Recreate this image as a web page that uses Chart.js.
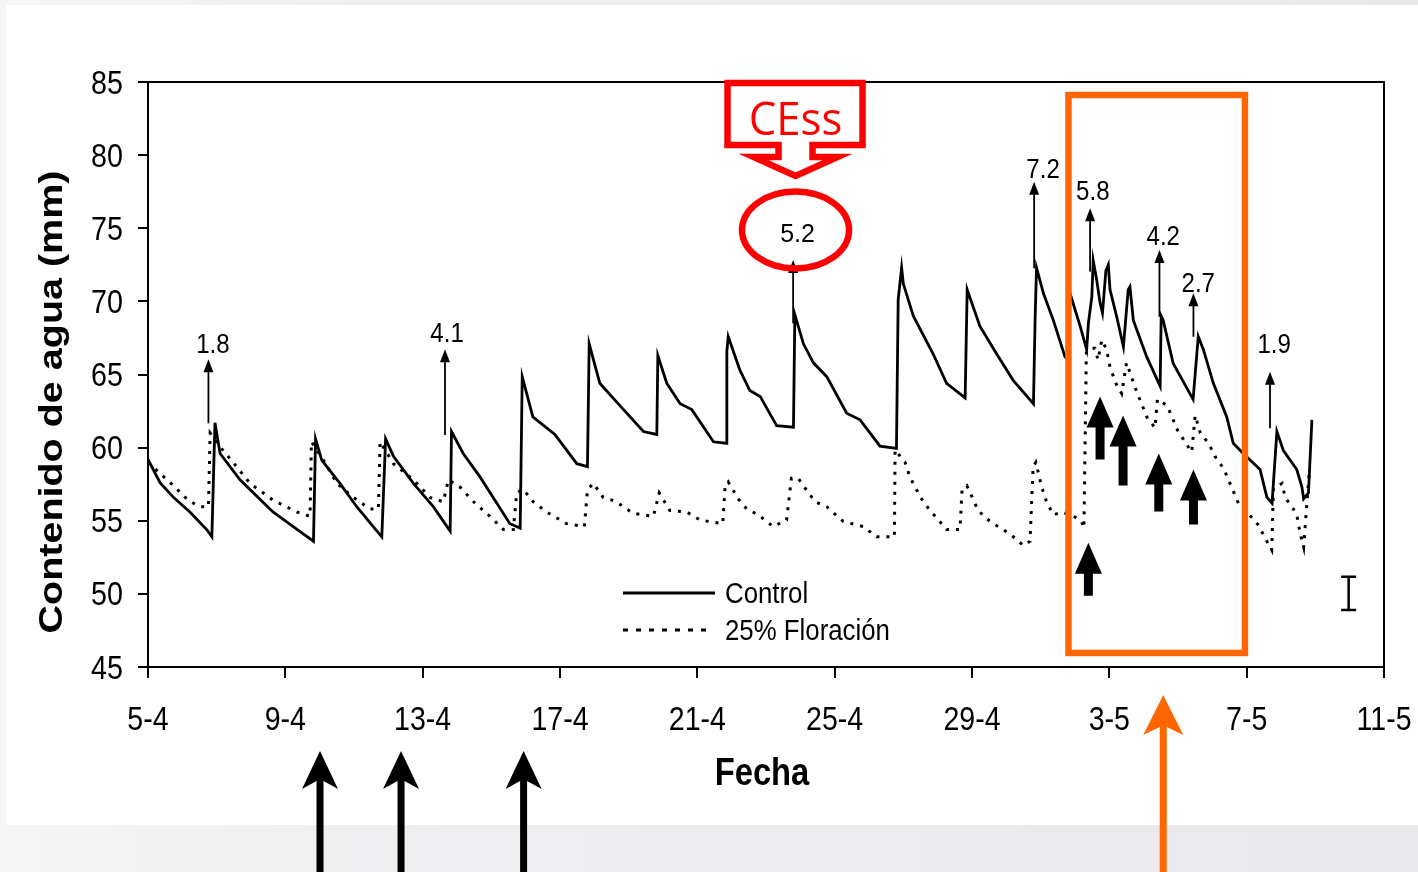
<!DOCTYPE html>
<html>
<head>
<meta charset="utf-8">
<title>Contenido de agua</title>
<script src="https://cdn.jsdelivr.net/npm/chart.js@4.4.1/dist/chart.umd.min.js"></script>
<style>
  html, body { margin: 0; padding: 0; }
  body {
    width: 1418px; height: 872px; overflow: hidden; position: relative;
    background: linear-gradient(90deg, #f6f6f7 0%, #efeff1 25%, #e9e9eb 100%);
  }
  #slide { position: absolute; left: 6px; top: 5px; width: 1412px; height: 820px; background: #fff; }
  #chart { position: absolute; left: 0; top: 0; }
</style>
</head>
<body>
<div id="slide"></div>
<canvas id="chart" width="1418" height="872"></canvas>
<script>
// dias desde el 5-4 y contenido de agua (mm)
const controlDays = [
  0, 0.35, 0.74, 1.22, 1.71, 1.86,
  1.95, 2.10, 2.68, 3.64, 4.43, 4.82,
  4.88, 5.06, 5.59, 6.08, 6.56, 6.81,
  6.92, 7.15, 7.73, 8.31, 8.80,
  8.84, 9.18, 9.67, 10.16, 10.54, 10.84,
  10.90, 11.21, 11.85, 12.49, 12.80,
  12.85, 13.16, 13.60, 14.43, 14.82,
  14.85, 15.11, 15.50, 15.84, 16.47, 16.84,
  16.86, 16.90, 17.24, 17.53, 17.83, 18.31, 18.80,
  18.84, 19.09, 19.38, 19.77, 20.35, 20.74, 21.32, 21.80,
  21.85, 21.95, 22.00, 22.29, 22.87, 23.26, 23.80,
  23.86, 24.23, 24.72, 25.20, 25.79,
  25.84, 25.88, 26.08, 26.37, 26.71,
  26.81, 26.85, 27.15, 27.34,
  27.39, 27.49, 27.53, 27.63, 27.73, 27.80, 27.90, 27.97, 28.02, 28.21, 28.41, 28.55, 28.60, 28.70, 29.09, 29.48,
  29.51, 29.57, 29.86, 30.44,
  30.59, 30.74, 31.03, 31.42, 31.61, 31.90, 32.10,
  32.39, 32.59, 32.74,
  32.88, 33.07, 33.46, 33.61, 33.66, 33.80, 33.90
];
const controlMm = [
  59.2, 57.6, 56.6, 55.6, 54.4, 53.9,
  61.7, 59.6, 57.8, 55.6, 54.25, 53.6,
  60.6, 59.15, 57.56, 55.96, 54.6, 53.9,
  60.6, 59.4, 57.56, 55.96, 54.3,
  61.1, 59.6, 58.0, 56.2, 54.8, 54.5,
  64.85, 62.1, 60.9, 58.9, 58.7,
  67.1, 64.4, 63.25, 61.1, 60.9,
  66.3, 64.4, 63.0, 62.6, 60.4, 60.3,
  66.6, 67.6, 65.3, 63.9, 63.5, 61.5, 61.4,
  69.1, 67.1, 65.8, 64.85, 62.35, 61.9, 60.1, 59.95,
  70.1, 72.3, 71.2, 69.0, 66.4, 64.4, 63.4,
  70.8, 68.3, 66.4, 64.6, 63.0,
  69.0, 72.3, 70.55, 68.7, 66.2,
  66.0, 70.6, 68.3, 66.7,
  68.5, 70.3, 72.8, 71.5, 69.9, 69.2, 72.1, 72.5, 70.8, 69.0, 66.9, 70.8, 71.0, 68.7, 66.2, 64.2,
  69.0, 68.7, 65.75, 63.3,
  67.6, 66.7, 64.4, 62.1, 60.3, 59.6, 59.15,
  58.5, 56.6, 56.2,
  61.1, 59.8, 58.5, 57.3, 56.5, 56.9, 61.9
];

const floracionDays = [
  0, 0.74, 1.17, 1.51, 1.76,
  1.81, 2.10, 2.58, 2.97, 3.65, 4.33, 4.72,
  4.76, 5.11, 5.50, 5.98, 6.47, 6.71,
  6.76, 7.15, 7.73, 8.21, 8.60,
  8.75, 9.09, 9.48, 9.96, 10.35, 10.64,
  10.74, 10.93, 11.22, 11.61, 12.19, 12.71,
  12.80, 12.97, 13.26, 13.60, 14.14, 14.72,
  14.89, 15.20, 15.69, 16.08, 16.74,
  16.81, 16.90, 17.19, 17.44, 17.78, 18.21, 18.60,
  18.74, 18.94, 19.18, 19.43, 19.77, 20.25, 20.84, 21.22, 21.74,
  21.76, 22.05, 22.19, 22.39, 22.58, 22.78, 22.97, 23.26, 23.65,
  23.71, 23.85, 24.13, 24.33, 24.62, 25.11, 25.50, 25.69,
  25.78, 25.86, 26.03, 26.17, 26.37, 26.62, 27.00, 27.19, 27.26,
  27.33, 27.44, 27.58, 27.67,
  27.78, 27.92, 28.02, 28.21, 28.36,
  28.50, 28.80, 28.94, 29.09, 29.33,
  29.40, 29.67, 29.81, 29.96, 30.20, 30.40,
  30.50, 30.65, 30.89, 31.08, 31.32, 31.47, 31.76, 32.05, 32.34, 32.54, 32.73,
  32.78, 33.03, 33.12, 33.36, 33.46, 33.56, 33.66,
  33.76, 33.83
];
const floracionMm = [
  59.0, 57.4, 56.4, 55.96, 55.96,
  61.0, 60.06, 58.7, 57.56, 56.4, 55.6, 55.3,
  60.4, 59.15, 57.56, 56.6, 55.8, 55.8,
  60.4, 58.9, 57.8, 56.6, 56.3,
  57.8, 57.3, 56.3, 55.3, 54.4, 54.4,
  56.9, 57.15, 56.3, 55.6, 54.8, 54.6,
  57.1, 57.56, 56.6, 56.35, 55.5, 55.3,
  56.9, 55.7, 55.6, 55.05, 54.8,
  57.4, 57.66, 56.5, 55.8, 55.4, 54.6, 55.05,
  57.9, 57.9, 57.1, 56.3, 55.96, 54.95, 54.6, 53.9, 53.9,
  59.84, 59.0, 58.0, 57.1, 56.3, 55.7, 55.2, 54.4, 54.4,
  57.1, 57.4, 55.96, 55.3, 54.8, 54.1, 53.3, 53.6,
  58.7, 59.0, 57.3, 56.3, 55.4, 55.6, 55.25, 54.95, 54.5,
  66.5, 66.8, 66.8, 66.0,
  67.36, 66.7, 65.5, 64.3, 63.7,
  65.8, 63.8, 63.0, 62.1, 61.35,
  63.3, 62.9, 62.2, 61.3, 60.4, 59.7,
  62.2, 61.0, 60.3, 59.4, 58.6, 57.8, 56.2, 55.5, 54.7, 53.8, 53.0,
  57.2, 57.56, 56.6, 55.8, 55.4, 54.1, 53.2,
  56.4, 58.5
];

// flechas de riego del Control: dia, base, punta, texto y posicion del texto
const riegoDays   = [1.76, 8.65, 18.79, 25.81, 27.44, 29.46, 30.45, 32.68];
const riegoBase   = [61.66, 60.86, 68.5, 72.26, 72.03, 68.95, 67.58, 61.32];
const riegoTip    = [66.04, 66.72, 72.83, 78.18, 76.36, 73.51, 70.55, 65.19];
const riegoLabels = ['1.8', '4.1', '5.2', '7.2', '5.8', '4.2', '2.7', '1.9'];
const labelDays   = [1.89, 8.71, 18.92, 26.07, 27.52, 29.57, 30.59, 32.80];
const labelMm     = [66.45, 67.24, 74.08, 78.42, 76.93, 73.85, 70.66, 66.45];

// flechas negras gruesas del tratamiento (dentro del recuadro)
const floracionArrowDays = [27.73, 28.40, 29.44, 30.45, 27.39];
const floracionArrowTip  = [63.5, 62.2, 59.6, 58.5, 53.5];
const floracionArrowLen  = [63, 70, 58, 55, 53];

// flechas bajo el eje
const bottomArrowDays = [5.01, 7.37, 10.94];
const orangeArrowDay = 29.57;

const boxDays = [26.81, 31.95];
const boxMm = [45.96, 84.11];
const cessCenter = [18.86, 74.88];
const errorBar = { day: 34.97, low: 48.9, high: 51.17 };

const xTicks = { min: 0, max: 36, step: 4 };
const yTicks = { min: 45, max: 85, step: 5 };

function dayLabel(d) {
  const dt = new Date(2000, 3, 5 + d);
  return dt.getDate() + '-' + (dt.getMonth() + 1);
}

// el original esta algo comprimido en horizontal
function squeezedText(ctx, text, x, y, font, align, sx) {
  ctx.save();
  ctx.font = font;
  ctx.translate(x, y);
  ctx.scale(sx, 1);
  ctx.textAlign = align;
  ctx.textBaseline = 'alphabetic';
  ctx.fillText(text, 0, 0);
  ctx.restore();
}

function thickArrow(ctx, x, tipY, headW, headH, shaftW, bottomY, color, notch) {
  const n = notch || 0;
  ctx.save();
  ctx.fillStyle = color;
  ctx.beginPath();
  ctx.moveTo(x, tipY);
  ctx.lineTo(x + headW / 2, tipY + headH);
  ctx.lineTo(x + shaftW / 2, tipY + headH - n);
  ctx.lineTo(x + shaftW / 2, bottomY);
  ctx.lineTo(x - shaftW / 2, bottomY);
  ctx.lineTo(x - shaftW / 2, tipY + headH - n);
  ctx.lineTo(x - headW / 2, tipY + headH);
  ctx.closePath();
  ctx.fill();
  ctx.restore();
}

const extras = {
  id: 'extras',
  afterDatasetsDraw(chart) {
    const ctx = chart.ctx;
    const xs = chart.scales.x, ys = chart.scales.y;
    const area = chart.chartArea;
    ctx.save();

    // marco completo
    ctx.strokeStyle = '#000';
    ctx.lineWidth = 2;
    ctx.strokeRect(area.left, area.top, area.right - area.left, area.bottom - area.top);

    // etiquetas de ejes
    ctx.fillStyle = '#000';
    xs.ticks.forEach(t => {
      squeezedText(ctx, dayLabel(t.value), xs.getPixelForValue(t.value), 730, '34px "Liberation Sans", Arial', 'center', 0.84);
    });
    ys.ticks.forEach(t => {
      squeezedText(ctx, String(t.value), 123, ys.getPixelForValue(t.value) + 11.5, '33px "Liberation Sans", Arial', 'right', 0.87);
    });
    squeezedText(ctx, 'Fecha', 762, 785, 'bold 39px "Liberation Sans", Arial', 'center', 0.84);
    ctx.save();
    ctx.translate(62, 402);
    ctx.rotate(-Math.PI / 2);
    ctx.scale(1, 0.85);
    ctx.font = 'bold 39.5px "Liberation Sans", Arial';
    ctx.textAlign = 'center';
    ctx.textBaseline = 'alphabetic';
    ctx.fillText('Contenido de agua (mm)', 0, 0);
    ctx.restore();

    // flechas finas con la lamina de riego
    riegoDays.forEach((d, i) => {
      const x = xs.getPixelForValue(d);
      const yb = ys.getPixelForValue(riegoBase[i]);
      const yt = ys.getPixelForValue(riegoTip[i]);
      ctx.strokeStyle = '#000';
      ctx.lineWidth = 1.8;
      ctx.beginPath();
      ctx.moveTo(x, yb);
      ctx.lineTo(x, yt + 10);
      ctx.stroke();
      ctx.fillStyle = '#000';
      ctx.beginPath();
      ctx.moveTo(x, yt);
      ctx.lineTo(x + 5, yt + 13);
      ctx.lineTo(x - 5, yt + 13);
      ctx.closePath();
      ctx.fill();
      const lx = xs.getPixelForValue(labelDays[i]);
      const ly = ys.getPixelForValue(labelMm[i]);
      if (riegoLabels[i] === '5.2') {
        ctx.font = '25px "Liberation Sans", Arial';
        ctx.textAlign = 'center';
        ctx.textBaseline = 'alphabetic';
        ctx.fillText(riegoLabels[i], lx, ly);
      } else {
        squeezedText(ctx, riegoLabels[i], lx, ly, '28px "Liberation Sans", Arial', 'center', 0.86);
      }
    });

    // barra de error
    const ex = xs.getPixelForValue(errorBar.day);
    const eLow = ys.getPixelForValue(errorBar.low);
    const eHigh = ys.getPixelForValue(errorBar.high);
    ctx.strokeStyle = '#000';
    ctx.lineWidth = 2.5;
    ctx.beginPath();
    ctx.moveTo(ex, eLow); ctx.lineTo(ex, eHigh);
    ctx.moveTo(ex - 7.5, eLow); ctx.lineTo(ex + 7.5, eLow);
    ctx.moveTo(ex - 7.5, eHigh); ctx.lineTo(ex + 7.5, eHigh);
    ctx.stroke();

    // leyenda
    ctx.lineWidth = 3;
    ctx.beginPath();
    ctx.moveTo(623, 593); ctx.lineTo(715, 593);
    ctx.stroke();
    ctx.setLineDash([5, 8]);
    ctx.beginPath();
    ctx.moveTo(623, 630); ctx.lineTo(710, 630);
    ctx.stroke();
    ctx.setLineDash([]);
    ctx.fillStyle = '#000';
    squeezedText(ctx, 'Control', 725, 603, '30px "Liberation Sans", Arial', 'left', 0.86);
    squeezedText(ctx, '25% Floración', 725, 640, '30px "Liberation Sans", Arial', 'left', 0.86);

    // recuadro naranja
    const bx0 = xs.getPixelForValue(boxDays[0]), bx1 = xs.getPixelForValue(boxDays[1]);
    const by0 = ys.getPixelForValue(boxMm[1]), by1 = ys.getPixelForValue(boxMm[0]);
    ctx.strokeStyle = '#ff6600';
    ctx.lineWidth = 6.5;
    ctx.strokeRect(bx0, by0, bx1 - bx0, by1 - by0);

    // flechas negras de riego del tratamiento
    floracionArrowDays.forEach((d, i) => {
      const x = xs.getPixelForValue(d);
      const tip = ys.getPixelForValue(floracionArrowTip[i]);
      thickArrow(ctx, x, tip, 27, 31, 9, tip + floracionArrowLen[i], '#000', 0);
    });

    // flechas bajo el eje
    bottomArrowDays.forEach(d => {
      thickArrow(ctx, xs.getPixelForValue(d), 751, 36, 38, 7, 872, '#000', 8);
    });
    thickArrow(ctx, xs.getPixelForValue(orangeArrowDay), 695, 40, 40, 7, 872, '#ff6600', 8);

    // llamada CEss
    const cx = xs.getPixelForValue(cessCenter[0]);
    const cy = ys.getPixelForValue(cessCenter[1]);
    ctx.strokeStyle = '#ff0000';
    ctx.lineWidth = 6.5;
    ctx.beginPath();
    ctx.ellipse(cx, cy, 53.5, 38.5, 0, 0, Math.PI * 2);
    ctx.stroke();
    ctx.lineJoin = 'miter';
    ctx.fillStyle = '#fff';
    ctx.beginPath();
    ctx.moveTo(cx - 68, cy - 147);
    ctx.lineTo(cx + 67, cy - 147);
    ctx.lineTo(cx + 67, cy - 85);
    ctx.lineTo(cx + 17, cy - 85);
    ctx.lineTo(cx + 17, cy - 73);
    ctx.lineTo(cx + 42, cy - 73);
    ctx.lineTo(cx, cy - 54);
    ctx.lineTo(cx - 42, cy - 73);
    ctx.lineTo(cx - 17, cy - 73);
    ctx.lineTo(cx - 17, cy - 85);
    ctx.lineTo(cx - 68, cy - 85);
    ctx.closePath();
    ctx.fill();
    ctx.stroke();
    ctx.fillStyle = '#ff0000';
    squeezedText(ctx, 'CEss', cx, cy - 95, '46px "Open Sans", "Liberation Sans", sans-serif', 'center', 0.95);

    ctx.restore();
  }
};

const axisGrid = (len) => ({
  display: true, drawOnChartArea: false, drawTicks: true,
  tickLength: len, color: '#000', lineWidth: 2
});

new Chart(document.getElementById('chart'), {
  type: 'line',
  data: {
    datasets: [
      {
        label: 'Control',
        data: controlDays.map((d, i) => ({ x: d, y: controlMm[i] })),
        borderColor: '#000',
        borderWidth: 2.8,
        pointRadius: 0,
        tension: 0,
        fill: false
      },
      {
        label: '25% Floración',
        data: floracionDays.map((d, i) => ({ x: d, y: floracionMm[i] })),
        borderColor: '#000',
        borderWidth: 3,
        borderDash: [3, 7],
        pointRadius: 0,
        tension: 0,
        fill: false
      }
    ]
  },
  options: {
    responsive: false,
    animation: false,
    devicePixelRatio: 1,
    layout: { padding: { top: 82, right: 34, bottom: 0, left: 0 } },
    plugins: { legend: { display: false }, tooltip: { enabled: false } },
    scales: {
      x: {
        type: 'linear', min: xTicks.min, max: xTicks.max,
        afterFit: s => { s.height = 205; },
        ticks: { display: false, stepSize: xTicks.step },
        grid: axisGrid(11),
        border: { display: true, color: '#000', width: 2 }
      },
      y: {
        min: yTicks.min, max: yTicks.max,
        afterFit: s => { s.width = 148; },
        ticks: { display: false, stepSize: yTicks.step },
        grid: axisGrid(10),
        border: { display: true, color: '#000', width: 2 }
      }
    }
  },
  plugins: [extras]
});
</script>
</body>
</html>
